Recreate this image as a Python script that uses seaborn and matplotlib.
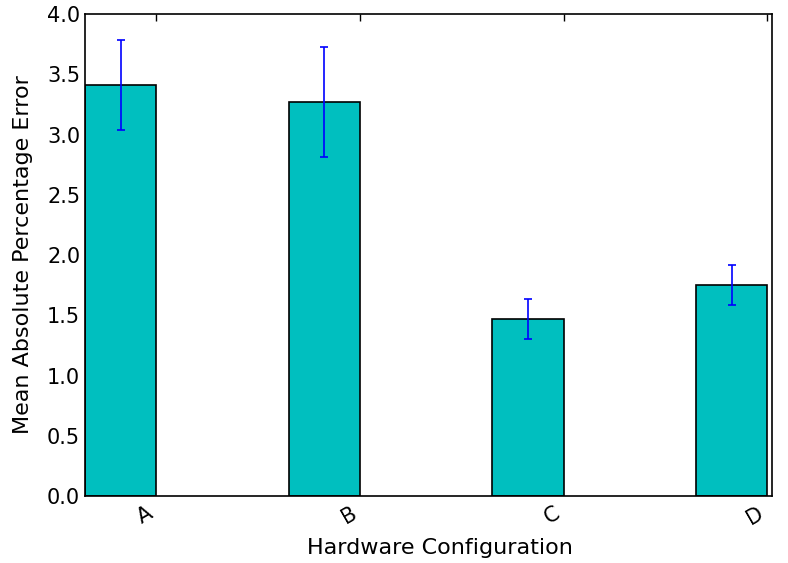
import numpy as np
import pandas as pd
import seaborn as sns
import matplotlib
matplotlib.use('Agg')
import matplotlib.pyplot as plt

# Values
configs = ['A', 'B', 'C', 'D']
mape = [3.41, 3.27, 1.47, 1.75]
mape_err = [0.375, 0.455, 0.165, 0.165]

df = pd.DataFrame({'config': configs, 'mape': mape})

sns.set_style('white')
plt.rcParams['font.family'] = ['DejaVu Sans']
plt.rcParams['text.color'] = 'black'
plt.rcParams['axes.labelcolor'] = 'black'
plt.rcParams['xtick.color'] = 'black'
plt.rcParams['ytick.color'] = 'black'
plt.rcParams['xtick.direction'] = 'in'
plt.rcParams['ytick.direction'] = 'in'
plt.rcParams['xtick.top'] = True
plt.rcParams['ytick.right'] = False

width = 0.35
fig = plt.figure(figsize=(7.88, 5.63), dpi=100)
ax = fig.add_axes([0.108, 0.119, 0.872, 0.856])

sns.barplot(data=df, x='config', y='mape', color='c', saturation=1,
            width=width, edgecolor='black', linewidth=1.2, ax=ax)

pos = np.arange(len(configs))
ax.errorbar(pos, mape, yerr=mape_err, fmt='none', ecolor='b',
            capsize=3, elinewidth=1.2, capthick=1.2)

ax.set_xlim(-width / 2, 3.2)
ax.set_ylim(0, 4.0)
ax.set_xticks(pos + width / 2)
ax.set_xticklabels(configs, rotation=30, ha='right')
ax.set_yticks(np.arange(0, 4.01, 0.5))
ax.tick_params(axis='both', labelsize=15, length=5, width=1)
ax.tick_params(axis='x', pad=5)
ax.set_xlabel('Hardware Configuration', fontsize=16, labelpad=7)
ax.xaxis.label.set_x(0.516)
ax.set_ylabel('Mean Absolute Percentage Error', fontsize=16, labelpad=10)
for s in ax.spines.values():
    s.set_color('black')
    s.set_linewidth(1.2)

fig.savefig('out.png', dpi=100)
